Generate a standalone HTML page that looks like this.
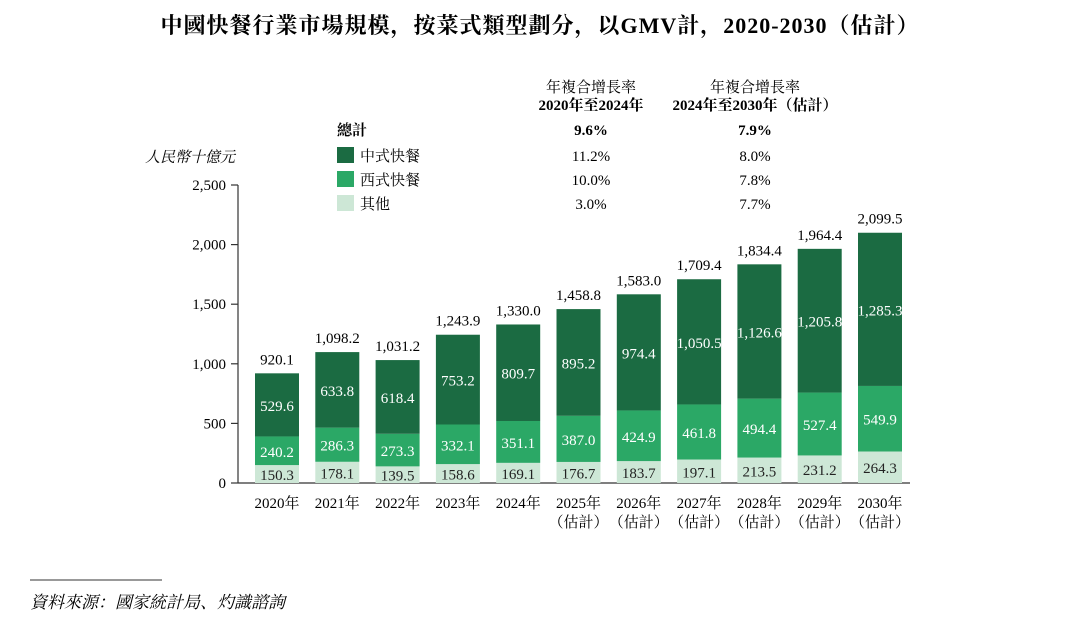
<!DOCTYPE html>
<html><head><meta charset="utf-8"><style>
body{margin:0;background:#fff;width:1080px;height:625px;overflow:hidden;font-family:"Liberation Serif","Noto Serif CJK SC",serif;color:#222}
svg text{font-family:"Liberation Serif","Noto Serif CJK SC",serif}
</style></head><body>
<svg id="c" width="1080" height="625">
<text x="540" y="33" text-anchor="middle" font-size="22" font-weight="bold" letter-spacing="1">中國快餐行業市場規模，按菜式類型劃分，以GMV計，2020-2030（估計）</text>
<text x="145" y="162" font-size="15" font-style="italic">人民幣十億元</text>
<g font-size="15">
<text x="591" y="92" text-anchor="middle">年複合增長率</text>
<text x="591" y="110" text-anchor="middle" font-weight="bold">2020年至2024年</text>
<text x="755" y="92" text-anchor="middle">年複合增長率</text>
<text x="755" y="110" text-anchor="middle" font-weight="bold">2024年至2030年（估計）</text>
<text x="337" y="135" font-weight="bold">總計</text>
<text x="591" y="135" text-anchor="middle" font-weight="bold">9.6%</text>
<text x="755" y="135" text-anchor="middle" font-weight="bold">7.9%</text>
<rect x="337" y="147" width="17" height="16" fill="#1b6b42"/>
<text x="360" y="161">中式快餐</text><text x="591" y="161" text-anchor="middle">11.2%</text><text x="755" y="161" text-anchor="middle">8.0%</text>
<rect x="337" y="171" width="17" height="16" fill="#2ba866"/>
<text x="360" y="185">西式快餐</text><text x="591" y="185" text-anchor="middle">10.0%</text><text x="755" y="185" text-anchor="middle">7.8%</text>
<rect x="337" y="195" width="17" height="16" fill="#cde7d6"/>
<text x="360" y="209">其他</text><text x="591" y="209" text-anchor="middle">3.0%</text><text x="755" y="209" text-anchor="middle">7.7%</text>
</g>
<line x1="30" y1="580" x2="162" y2="580" stroke="#333" stroke-width="1"/>
<text x="30" y="608" font-size="17" font-style="italic">資料來源：國家統計局、灼識諮詢</text>
<g id="plot"></g>
</svg>
<script>
const years=["2020年","2021年","2022年","2023年","2024年","2025年","2026年","2027年","2028年","2029年","2030年"];
const estimated=[false,false,false,false,false,true,true,true,true,true,true];
const other=[150.3,178.1,139.5,158.6,169.1,176.7,183.7,197.1,213.5,231.2,264.3];
const western=[240.2,286.3,273.3,332.1,351.1,387.0,424.9,461.8,494.4,527.4,549.9];
const chinese=[529.6,633.8,618.4,753.2,809.7,895.2,974.4,1050.5,1126.6,1205.8,1285.3];
const totals=[920.1,1098.2,1031.2,1243.9,1330.0,1458.8,1583.0,1709.4,1834.4,1964.4,2099.5];
const yTicks=[0,500,1000,1500,2000,2500];
const NS="http://www.w3.org/2000/svg";
const g=document.getElementById('plot');
const y0=483,yTop=185,maxV=2500;
const yS=v=>y0-v*(y0-yTop)/maxV;
const xC=i=>277+i*60.3;
const bw=44;
const fmt=v=>v.toLocaleString('en-US',{minimumFractionDigits:1,maximumFractionDigits:1});
function el(t,a,txt){const e=document.createElementNS(NS,t);for(const k in a)e.setAttribute(k,a[k]);if(txt!=null)e.textContent=txt;g.appendChild(e);return e;}
let e=el('line',{x1:238,y1:y0,x2:910,y2:y0,stroke:'#333','stroke-width':1.2});


e=el('line',{x1:238,y1:yTop,x2:238,y2:y0,stroke:'#333','stroke-width':1.2});


yTicks.forEach(t=>{
 el('line',{x1:231,y1:yS(t),x2:238,y2:yS(t),stroke:'#333','stroke-width':1.2});
 e=el('text',{x:226,y:yS(t)+5,'text-anchor':'end','font-size':15},t.toLocaleString('en-US'));
 
 
});
const segs=[[other,'#cde7d6','#222','other'],[western,'#2ba866','#fff','western'],[chinese,'#1b6b42','#fff','chinese']];
years.forEach((yr,i)=>{
 let base=0;const x=xC(i)-bw/2;
 segs.forEach(([arr,col,tc,nm])=>{
  const v=arr[i];
  e=el('rect',{x:x,y:yS(base+v),width:bw,height:yS(base)-yS(base+v),fill:col});
  
  
  e=el('text',{x:xC(i),y:(yS(base)+yS(base+v))/2+6,'text-anchor':'middle','font-size':15,fill:tc},fmt(v));
  
  
  base+=v;
 });
 e=el('text',{x:xC(i),y:yS(totals[i])-9,'text-anchor':'middle','font-size':15},fmt(totals[i]));
 
 
 e=el('text',{x:xC(i),y:508,'text-anchor':'middle','font-size':15},yr);
 
 
 if(estimated[i]){
  e=el('text',{x:xC(i),y:527,'text-anchor':'middle','font-size':15},'（估計）');
  
  
 }
});
</script>
</body></html>
